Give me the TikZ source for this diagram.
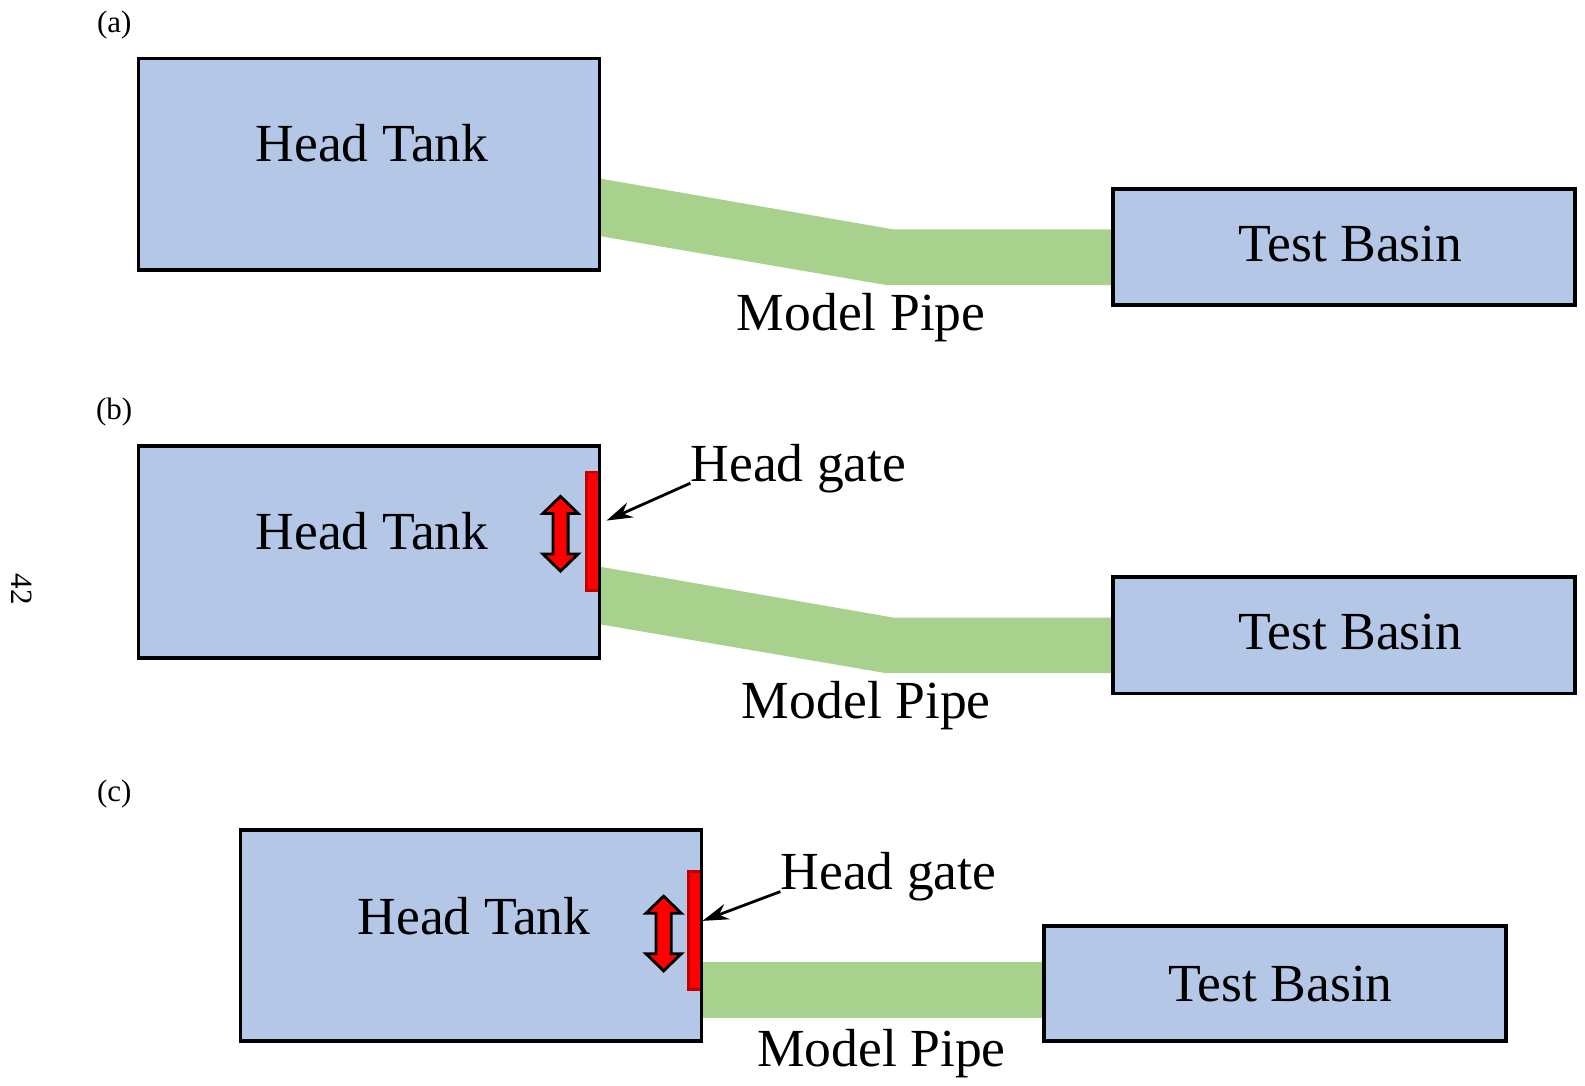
\documentclass[tikz,border=0pt]{standalone}
\usepackage{fontspec}
\setmainfont{Liberation Serif}
\usetikzlibrary{arrows.meta}
\definecolor{tankblue}{HTML}{B4C7E7}
\definecolor{pipegreen}{HTML}{A9D18E}
\definecolor{gatered}{HTML}{FF0000}
\definecolor{gatedark}{HTML}{C00000}
\begin{document}
\begin{tikzpicture}[x=0.50545pt,y=-0.50545pt,
 boxfill/.style={fill=tankblue},
 boxline/.style={draw=black,line width=1.8pt},
 pipe/.style={fill=pipegreen},
 big/.style={font=\fontsize{26.8}{30}\selectfont, inner sep=0pt, anchor=base},
 small/.style={font=\fontsize{15.5}{18}\selectfont, inner sep=0pt},
 gatebar/.style={fill=gatered,draw=gatedark,line width=1.4pt},
 dblarrow/.style={fill=gatered,draw=black,line width=1.4pt,line join=miter},
 pointer/.style={-{Stealth[length=13pt,width=8pt]}, line width=1.4pt},
 updown/.pic={\draw[dblarrow] (0,-37) -- (17.5,-20) -- (7.5,-20) -- (7.5,20) -- (17.5,20) -- (0,37) -- (-17.5,20) -- (-7.5,20) -- (-7.5,-20) -- (-17.5,-20) -- cycle;}]
\useasboundingbox (0,0) rectangle (1568,1074);

% page number
\node[small, rotate=-90] (pagenum) at (22,583) {42};

% ---------- (a) ----------
\node[small] (la) at (113,25) {(a)};
\fill[pipe] (590,176) -- (884,227) -- (1103,227) -- (1103,282) -- (877,282) -- (590,233) -- cycle;
\draw[boxline,boxfill] (137,58) rectangle (593,267);
\draw[boxline,boxfill] (1101,187) rectangle (1558,302);
\node[big] (hta) at (368,160) {Head Tank};
\node[big] (tba) at (1336,259) {Test Basin};
\node[big] (mpa) at (852,327) {Model Pipe};

% ---------- (b) ----------
\node[small] (lb) at (113,408) {(b)};
\fill[pipe] (590,560) -- (884,611) -- (1103,611) -- (1103,666) -- (877,666) -- (590,617) -- cycle;
\fill[boxfill] (137,441) rectangle (593,651);
\draw[gatebar] (580,467) rectangle (592.5,584);
\draw[boxline] (137,441) rectangle (593,651);
\draw[boxline,boxfill] (1101,571) rectangle (1558,686);
\pic at (554.5,528) {updown};
\node[big] (htb) at (368,544) {Head Tank};
\node[big] (tbb) at (1336,643) {Test Basin};
\node[big] (mpb) at (857,711) {Model Pipe};
\node[big] (hgb) at (790,476) {Head gate};
\coordinate (hgbs) at (683,478);
\coordinate (hgbt) at (600,515);
\draw[pointer] (hgbs) -- (hgbt);

% ---------- (c) ----------
\node[small] (lc) at (113,786) {(c)};
\fill[pipe] (690,952) rectangle (1035,1007);
\fill[boxfill] (238,821) rectangle (694,1030);
\draw[gatebar] (681,862) rectangle (693.5,979);
\draw[boxline] (238,821) rectangle (694,1030);
\draw[boxline,boxfill] (1033,916) rectangle (1490,1030);
\pic at (656.5,923.5) {updown};
\node[big] (htc) at (469,924) {Head Tank};
\node[big] (tbc) at (1267,991) {Test Basin};
\node[big] (mpc) at (872,1055) {Model Pipe};
\node[big] (hgc) at (879,880) {Head gate};
\coordinate (hgcs) at (772,882);
\coordinate (hgct) at (695,911);
\draw[pointer] (hgcs) -- (hgct);
\end{tikzpicture}
\end{document}
